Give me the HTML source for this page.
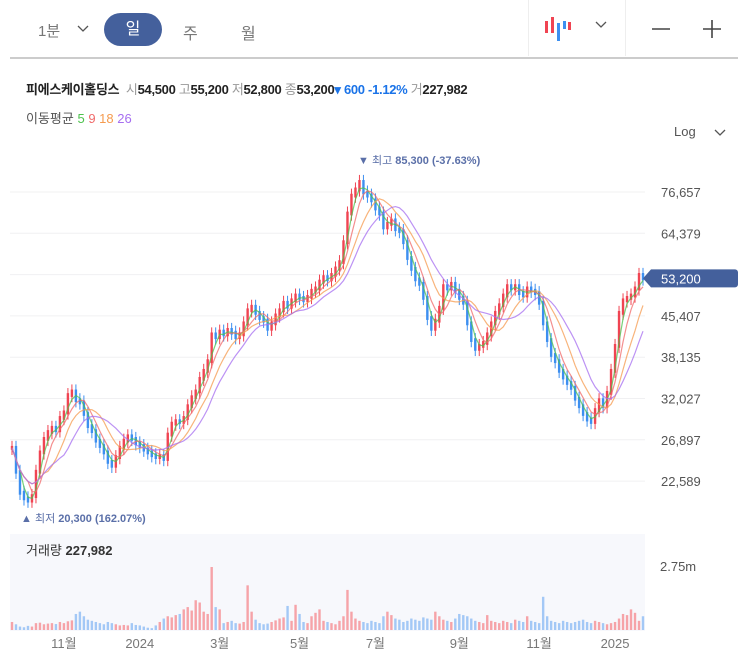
<!DOCTYPE html>
<html><head><meta charset="utf-8">
<style>
body{margin:0;background:#fff;font-family:"Liberation Sans","Noto Sans CJK KR",sans-serif;}
#wrap{position:relative;width:743px;height:672px;overflow:hidden;}
.t{position:absolute;white-space:nowrap;}
</style></head>
<body>
<div id="wrap">
  <div class="t" style="left:38px;top:20px;font-size:15px;color:#777;">1분</div>
  <svg class="t" style="left:77px;top:24px" width="12" height="10"><path d="M1 2 L6 7 L11 2" stroke="#555" stroke-width="1.3" fill="none"/></svg>
  <div class="t" style="left:104px;top:13px;width:58px;height:33px;border-radius:17px;background:#44609c;color:#fff;font-size:16px;text-align:center;line-height:33px;">일</div>
  <div class="t" style="left:183px;top:20px;font-size:16px;color:#777;">주</div>
  <div class="t" style="left:241px;top:20px;font-size:16px;color:#777;">월</div>
  <div class="t" style="left:528px;top:0;width:1px;height:56px;background:#eee"></div>
  <div class="t" style="left:625px;top:0;width:1px;height:56px;background:#eee"></div>
  <svg class="t" style="left:543px;top:15px" width="30" height="28">
    <rect x="2" y="6" width="3" height="12" fill="#f04452"/><rect x="8" y="2" width="3" height="16" fill="#f04452"/>
    <rect x="14" y="8" width="3" height="18" fill="#3d8ff0"/><rect x="20" y="6" width="3" height="8" fill="#3d8ff0"/><rect x="25" y="7" width="3" height="8" fill="#f04452"/>
  </svg>
  <svg class="t" style="left:595px;top:20px" width="12" height="10"><path d="M1 2 L6 7 L11 2" stroke="#555" stroke-width="1.3" fill="none"/></svg>
  <svg class="t" style="left:650px;top:18px" width="22" height="22"><path d="M2 11 H20" stroke="#444" stroke-width="1.6"/></svg>
  <svg class="t" style="left:701px;top:18px" width="22" height="22"><path d="M2 11 H20 M11 2 V20" stroke="#444" stroke-width="1.6"/></svg>
  <div class="t" style="left:10px;top:57px;width:728px;height:2px;background:#ccc"></div>

  <div class="t" style="left:26px;top:79px;font-size:13px;color:#222;letter-spacing:-0.3px;">
    <b>피에스케이홀딩스</b>&nbsp;
    <span style="color:#999">시</span><b>54,500</b> <span style="color:#999">고</span><b>55,200</b> <span style="color:#999">저</span><b>52,800</b> <span style="color:#999">종</span><b>53,200</b><b style="color:#1a73e8">▾ 600 -1.12%</b> <span style="color:#999">거</span><b>227,982</b>
  </div>
  <div class="t" style="left:26px;top:108px;font-size:13px;color:#555;">이동평균 <span style="color:#4cc24c">5</span> <span style="color:#f06a6a">9</span> <span style="color:#f59b4f">18</span> <span style="color:#a66ef0">26</span></div>
  <div class="t" style="left:674px;top:124px;font-size:13px;color:#555;">Log</div>
  <svg class="t" style="left:714px;top:128px" width="12" height="10"><path d="M1 2 L6 7 L11 2" stroke="#555" stroke-width="1.3" fill="none"/></svg>

  <div class="t" style="left:358px;top:152px;font-size:11px;color:#5a6fa8;">▼ 최고 <b>85,300 (-37.63%)</b></div>
  <div class="t" style="left:21px;top:510px;font-size:11px;color:#5a6fa8;">▲ 최저 <b>20,300 (162.07%)</b></div>
  <div class="t" style="left:10px;top:534px;width:635px;height:97px;background:#f7f8fc"></div>
  <div class="t" style="left:26px;top:540px;font-size:13px;color:#333;">거래량 <b>227,982</b></div>
  <div class="t" style="left:660px;top:559px;font-size:13px;color:#555;">2.75m</div>

  <svg id="chart" class="t" style="left:0;top:0" width="743" height="672"></svg>
</div>
<script>
const priceTicks = [76657,64379,54068,45407,38135,32027,26897,22589];
const monthLabels = ["11월","2024","3월","5월","7월","9월","11월","2025"];
const monthIndex = [13,32,52,72,91,112,132,151];
const maPeriods = [5,9,18,26];
const maColors = ["#4cc24c","#f06a6a","#f59b4f","#a66ef0"];
const closes = [26000,23500,21500,21000,20800,21200,23500,25500,27000,27800,28300,28000,29500,30200,32500,33000,31800,31500,30000,28500,27900,26800,26200,25500,24500,24100,25000,26000,26800,27300,27000,26500,26200,25800,25500,25200,25000,25100,24800,27500,28800,29100,29000,29500,31000,32200,33000,34800,36000,37500,42000,41500,42500,42000,42800,42300,41500,42000,44000,46500,47200,46000,45000,44500,43000,44000,45500,46500,48000,47200,48500,49500,49000,48500,49200,50500,51000,52500,53500,53000,54000,55500,57000,62000,70000,75500,77500,80000,76500,75500,74000,71500,70000,66000,67000,68000,65500,65000,62000,58000,55400,53000,52000,49000,45000,43000,44500,47000,51500,51000,52000,50500,49000,48000,44000,41000,39500,40000,40500,42000,44000,46000,47500,49500,51500,51000,51500,50000,49500,51000,50500,50000,48000,44000,41000,38500,37500,36000,35000,34200,33500,32000,31000,30000,29300,29000,30500,31800,31000,32800,36000,40000,46000,48500,49000,49500,51000,54000,53200];
const volumes = [350,250,150,120,180,150,300,320,250,280,300,260,350,300,380,420,700,800,600,450,400,350,300,250,350,300,250,200,220,200,300,220,200,150,100,80,200,350,500,600,550,650,700,900,1000,850,1300,1200,800,700,2750,1000,900,300,350,400,300,280,350,1950,800,450,300,250,280,350,420,500,550,1050,400,1100,700,350,300,600,750,900,400,350,300,250,400,600,1750,800,500,400,350,300,400,350,300,600,800,650,500,450,350,400,500,450,400,550,500,450,800,600,450,400,350,500,700,650,600,500,400,350,300,650,400,350,300,400,350,300,450,400,350,600,400,350,300,1450,600,400,350,300,400,350,300,350,400,450,350,300,400,350,300,250,300,350,500,700,650,900,750,400,600];

const NS="http://www.w3.org/2000/svg";
const svg=document.getElementById('chart');
function mk(tag,attrs,parent){const e=document.createElementNS(NS,tag);for(const k in attrs)e.setAttribute(k,attrs[k]);(parent||svg).appendChild(e);return e;}
const X0=12, DX=(643-12)/(closes.length-1);
function xScale(i){return X0+i*DX;}
function yScale(p){return 192+(Math.log(76657)-Math.log(p))/Math.log(76657/64379)*41.3;}
function vScale(v){return 630-v/2750*63;}

priceTicks.forEach((t,k)=>{
  const y=yScale(t);
  const g=mk('line',{x1:10,x2:645,y1:y,y2:y,stroke:'#f0f0f2','stroke-width':1});
  
  
  if(k!==2){
    const tx=mk('text',{x:661,y:y+5,'font-size':13,fill:'#555','font-family':'Liberation Sans, sans-serif'});
    tx.textContent=t.toLocaleString('en-US');
    
    
  }
});
// volume
volumes.forEach((v,i)=>{
  const up=i===0||closes[i]>=closes[i-1];
  const y=vScale(v);
  const r=mk('rect',{x:xScale(i)-1.2,y:y,width:2.4,height:630-y,fill:up?'#f6a3a8':'#a3c8f6'});
  
  
});
// candles
closes.forEach((c,i)=>{
  const o=i===0?c:closes[i-1];
  const up=c>=o;
  const col=up?'#f04452':'#3d8ff0';
  const hi=Math.max(o,c)*1.03, lo=Math.min(o,c)*0.97;
  const x=xScale(i);
  const w=mk('line',{x1:x,x2:x,y1:yScale(hi),y2:yScale(lo),stroke:col,'stroke-width':1});
  
  
  const yt=yScale(Math.max(o,c)*1.008), yb=yScale(Math.min(o,c)*0.992);
  const b=mk('rect',{x:x-1.2,y:yt,width:2.4,height:Math.max(2,yb-yt),fill:col});
  
  
});
// moving averages (each candle ~2 trading days)
maPeriods.forEach((p,k)=>{
  const n=Math.max(2,Math.round(p/2));
  let d='';
  closes.forEach((c,i)=>{
    const s=closes.slice(Math.max(0,i-n+1),i+1);
    const m=s.reduce((a,b)=>a+b,0)/s.length;
    d+=(i?'L':'M')+xScale(i).toFixed(1)+' '+yScale(m).toFixed(1);
  });
  const pl=mk('path',{d:d,fill:'none',stroke:maColors[k],'stroke-width':1.2,opacity:0.75});
  
  
});
// x axis
monthLabels.forEach((l,k)=>{
  const t=mk('text',{x:xScale(monthIndex[k]),y:648,'font-size':13,fill:'#777','text-anchor':'middle','font-family':'Liberation Sans, Noto Sans CJK KR, sans-serif'});
  t.textContent=l;
  
  
});
// current price label
const cy=yScale(closes[closes.length-1]);
const lab=mk('path',{d:`M643 ${cy} L651 ${cy-9} H735 a3 3 0 0 1 3 3 V${cy+6} a3 3 0 0 1 -3 3 H651 Z`,fill:'#44609c'});


const lt=mk('text',{x:661,y:cy+5,'font-size':13,fill:'#fff','font-family':'Liberation Sans, sans-serif'});
lt.textContent=closes[closes.length-1].toLocaleString('en-US');


</script>
</body></html>
